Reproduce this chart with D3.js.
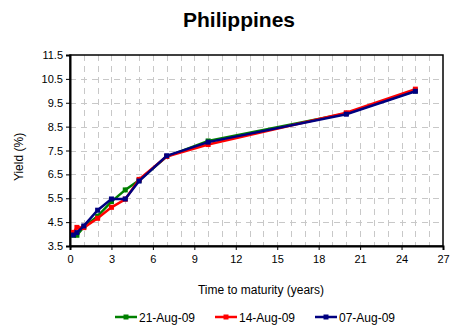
<!DOCTYPE html>
<html>
<head>
<meta charset="utf-8">
<script src="https://cdn.jsdelivr.net/npm/d3@7"></script>
<style>
  body { margin: 0; background: #fff; }
  svg text { font-family: "Liberation Sans", Arial, sans-serif; fill: #000; }
</style>
</head>
<body>
<div id="chart"></div>
<script>
// maturities (years)
const maturities = [0.25, 0.5, 1, 2, 3, 4, 5, 7, 10, 20, 25];
// yields (%) per date
const aug21 = [3.95, 3.95, 4.3, 4.75, 5.36, 5.85, 6.25, 7.25, 7.9, 9.05, 10.0];
const aug14 = [4.07, 4.28, 4.27, 4.66, 5.12, 5.46, 6.29, 7.25, 7.75, 9.08, 10.07];
const aug07 = [3.96, 4.06, 4.34, 5.0, 5.47, 5.47, 6.22, 7.28, 7.85, 9.02, 9.98];
const seriesNames = ["21-Aug-09", "14-Aug-09", "07-Aug-09"];
const seriesColors = ["#008000", "#ff0000", "#000080"];
const xTicks = [0, 3, 6, 9, 12, 15, 18, 21, 24, 27];
const yTicks = [3.5, 4.5, 5.5, 6.5, 7.5, 8.5, 9.5, 10.5, 11.5];

const W = 466, H = 326;
const m = { left: 70, right: 23, top: 55, bottom: 80 };
const iw = W - m.left - m.right, ih = H - m.top - m.bottom;

const svg = d3.select("#chart").append("svg")
    .attr("width", W).attr("height", H);

const x = d3.scaleLinear().domain([0, 27]).range([m.left, m.left + iw]);
const y = d3.scaleLinear().domain([3.5, 11.5]).range([m.top + ih, m.top]);

// grid
const grid = svg.append("g")
    .attr("stroke", "#c8c8c8").attr("stroke-width", 1)
    .attr("stroke-dasharray", "6,5");
grid.selectAll(".vg").data(d3.range(1, 27)).enter().append("line")
    .attr("x1", d => Math.round(x(d)) + 0.5).attr("x2", d => Math.round(x(d)) + 0.5)
    .attr("y1", m.top).attr("y2", m.top + ih);
grid.selectAll(".hg").data(yTicks.slice(1, -1)).enter().append("line")
    .attr("y1", d => Math.round(y(d)) + 0.5).attr("y2", d => Math.round(y(d)) + 0.5)
    .attr("x1", m.left).attr("x2", m.left + iw);

// frame
svg.append("rect")
    .attr("x", m.left).attr("y", m.top).attr("width", iw).attr("height", ih)
    .attr("fill", "none").attr("stroke", "#000").attr("stroke-width", 1.5);

// axes
const xAxis = svg.append("g")
    .attr("transform", `translate(0,${m.top + ih})`)
    .call(d3.axisBottom(x).tickValues(xTicks).tickSize(4).tickPadding(5).tickFormat(d3.format("d")));
const yAxis = svg.append("g")
    .attr("transform", `translate(${m.left},0)`)
    .call(d3.axisLeft(y).tickValues(yTicks).tickSize(4).tickPadding(3).tickFormat(d3.format(".1f")));
[xAxis, yAxis].forEach(a => {
    a.select(".domain").attr("stroke", "#000").attr("stroke-width", 2);
    a.selectAll(".tick line").attr("stroke", "#000");
    a.selectAll("text").style("font-size", "11px");
});

// lines
const line = d3.line().x(d => x(d[0])).y(d => y(d[1]));
[aug21, aug14, aug07].forEach((vals, i) => {
    const pts = maturities.map((t, j) => [t, vals[j]]);
    svg.append("path").datum(pts)
        .attr("d", line).attr("fill", "none")
        .attr("stroke", seriesColors[i]).attr("stroke-width", 2.5);
    svg.selectAll(".pt" + i).data(pts).enter().append("rect")
        .attr("x", d => x(d[0]) - 2.5).attr("y", d => y(d[1]) - 2.5)
        .attr("width", 5).attr("height", 5)
        .attr("fill", seriesColors[i]);
});

// title and axis labels
svg.append("text")
    .attr("x", 239).attr("y", 27).attr("text-anchor", "middle")
    .style("font-family", "'Liberation Sans Narrow', 'Arial Narrow', sans-serif")
    .style("font-weight", "bold").style("font-size", "21px")
    .text("Philippines");
svg.append("text")
    .attr("x", 261).attr("y", 294).attr("text-anchor", "middle")
    .style("font-size", "12px")
    .text("Time to maturity (years)");
svg.append("text")
    .attr("transform", "translate(23,157) rotate(-90)")
    .attr("text-anchor", "middle")
    .style("font-size", "12px")
    .text("Yield (%)");

// legend
const lg = svg.append("g");
const legendX = [115, 215, 315];
seriesNames.forEach((name, i) => {
    const g = lg.append("g").attr("transform", `translate(${legendX[i]},317)`);
    g.append("line").attr("x1", 0).attr("x2", 22).attr("y1", 0).attr("y2", 0)
        .attr("stroke", seriesColors[i]).attr("stroke-width", 2.5);
    g.append("rect").attr("x", 8.5).attr("y", -2.5).attr("width", 5).attr("height", 5)
        .attr("fill", seriesColors[i]);
    g.append("text").attr("x", 24).attr("y", 4.5).style("font-size", "12px").text(name);
});
</script>
</body>
</html>
